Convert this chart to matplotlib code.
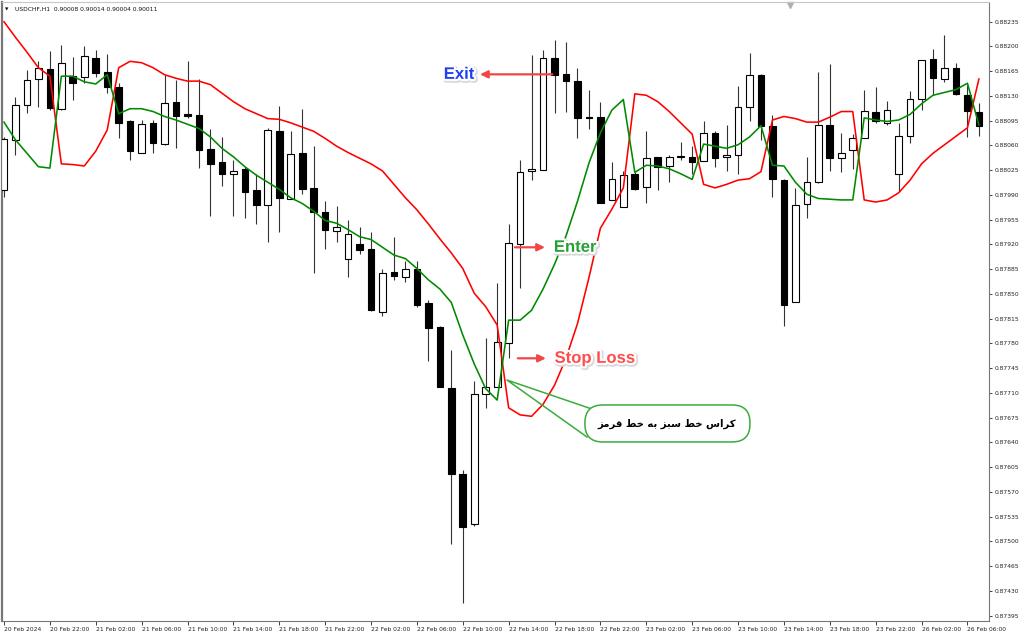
import matplotlib
matplotlib.use("Agg")
import matplotlib.pyplot as plt
import matplotlib.patheffects as pe
from matplotlib.patches import FancyBboxPatch
import numpy as np

# USDCHF H1 bars, index 0 = 20 Feb 18:00 ... index 85 = 26 Feb 07:00
opens = [0.87997, 0.88068, 0.88117, 0.88154, 0.88168, 0.88111, 0.88158, 0.88157, 0.88183, 0.88164,
         0.88142, 0.88095, 0.88050, 0.88092, 0.88062, 0.88121, 0.88104, 0.88103, 0.88055, 0.88036,
         0.88019, 0.88027, 0.87997, 0.87976, 0.88081, 0.87985, 0.88049, 0.88000, 0.87966, 0.87939,
         0.87900, 0.87920, 0.87913, 0.87825, 0.87881, 0.87874, 0.87885, 0.87837, 0.87803, 0.87717,
         0.87595, 0.87525, 0.87708, 0.87718, 0.87781, 0.87920, 0.88024, 0.88025, 0.88183, 0.88161,
         0.88151, 0.88100, 0.88100, 0.87983, 0.87973, 0.88020, 0.88001, 0.88043, 0.88031, 0.88044,
         0.88044, 0.88038, 0.88077, 0.88043, 0.88047, 0.88114, 0.88159, 0.88087, 0.88011, 0.87838,
         0.87977, 0.88008, 0.88089, 0.88042, 0.88053, 0.88071, 0.88108, 0.88092, 0.88020, 0.88073,
         0.88126, 0.88182, 0.88154, 0.88169, 0.88131, 0.88108]
highs = [0.88072, 0.88128, 0.88167, 0.88179, 0.88193, 0.88202, 0.88185, 0.88201, 0.88195, 0.88190,
         0.88148, 0.88096, 0.88096, 0.88096, 0.88160, 0.88153, 0.88179, 0.88154, 0.88084, 0.88072,
         0.88039, 0.88030, 0.88019, 0.88085, 0.88116, 0.88080, 0.88112, 0.88059, 0.87982, 0.87974,
         0.87955, 0.87944, 0.87938, 0.87886, 0.87931, 0.87897, 0.87897, 0.87842, 0.87805, 0.87771,
         0.87601, 0.87727, 0.87788, 0.87866, 0.87949, 0.88040, 0.88188, 0.88195, 0.88209, 0.88206,
         0.88169, 0.88139, 0.88122, 0.88036, 0.88024, 0.88022, 0.88080, 0.88044, 0.88046, 0.88065,
         0.88059, 0.88095, 0.88081, 0.88089, 0.88144, 0.88191, 0.88161, 0.88103, 0.88013, 0.88000,
         0.88043, 0.88164, 0.88175, 0.88077, 0.88076, 0.88138, 0.88142, 0.88123, 0.88092, 0.88137,
         0.88181, 0.88196, 0.88216, 0.88176, 0.88146, 0.88120]
lows = [0.87987, 0.88047, 0.88106, 0.88115, 0.88110, 0.88110, 0.88124, 0.88148, 0.88157, 0.88134,
        0.88070, 0.88040, 0.88049, 0.88049, 0.88061, 0.88056, 0.88099, 0.88028, 0.87960, 0.88002,
        0.87960, 0.87957, 0.87949, 0.87924, 0.87938, 0.87984, 0.87992, 0.87879, 0.87913, 0.87924,
        0.87874, 0.87906, 0.87826, 0.87819, 0.87870, 0.87867, 0.87831, 0.87755, 0.87718, 0.87497,
        0.87413, 0.87522, 0.87689, 0.87718, 0.87759, 0.87859, 0.88011, 0.88025, 0.88106, 0.88108,
        0.88070, 0.88084, 0.87979, 0.87983, 0.87973, 0.87997, 0.87978, 0.87997, 0.88008, 0.88040,
        0.88020, 0.88038, 0.88030, 0.88024, 0.88019, 0.88095, 0.88068, 0.87987, 0.87805, 0.87838,
        0.87957, 0.88007, 0.88024, 0.88022, 0.88027, 0.88071, 0.88092, 0.88089, 0.87995, 0.88063,
        0.88110, 0.88131, 0.88150, 0.88131, 0.88072, 0.88073]
closes = [0.88069, 0.88117, 0.88153, 0.88169, 0.88113, 0.88176, 0.88148, 0.88186, 0.88163, 0.88142,
          0.88092, 0.88052, 0.88091, 0.88064, 0.88120, 0.88102, 0.88101, 0.88053, 0.88034, 0.88020,
          0.88024, 0.87994, 0.87976, 0.88082, 0.87986, 0.88048, 0.87998, 0.87966, 0.87941, 0.87945,
          0.87935, 0.87912, 0.87827, 0.87880, 0.87875, 0.87885, 0.87834, 0.87802, 0.87718, 0.87596,
          0.87521, 0.87708, 0.87718, 0.87782, 0.87922, 0.88022, 0.88027, 0.88184, 0.88160, 0.88151,
          0.88099, 0.88099, 0.87979, 0.88013, 0.88018, 0.87999, 0.88042, 0.88030, 0.88043, 0.88045,
          0.88036, 0.88077, 0.88042, 0.88046, 0.88114, 0.88160, 0.88087, 0.88012, 0.87835, 0.87976,
          0.88009, 0.88089, 0.88042, 0.88050, 0.88070, 0.88109, 0.88095, 0.88110, 0.88074, 0.88126,
          0.88181, 0.88155, 0.88169, 0.88133, 0.88109, 0.88087]

# indicator lines
green_line = [0.88093, 0.88068, 0.88049, 0.88030, 0.88028, 0.88158, 0.88158, 0.88150, 0.88147, 0.88160,
              0.88105, 0.88112, 0.88112, 0.88108, 0.88101, 0.88096, 0.88090, 0.88084, 0.88072, 0.88056,
              0.88044, 0.88030, 0.88018, 0.88008, 0.87998, 0.87986, 0.87978, 0.87967, 0.87954, 0.87950,
              0.87941, 0.87931, 0.87927, 0.87916, 0.87905, 0.87900, 0.87886, 0.87870, 0.87857, 0.87838,
              0.87792, 0.87751, 0.87716, 0.87700, 0.87813, 0.87813, 0.87827, 0.87857, 0.87892, 0.87932,
              0.87981, 0.88035, 0.88078, 0.88110, 0.88125, 0.88022, 0.88032, 0.88031, 0.88027, 0.88020,
              0.88012, 0.88062, 0.88059, 0.88056, 0.88061, 0.88072, 0.88088, 0.88032, 0.88031, 0.88008,
              0.87991, 0.87985, 0.87984, 0.87983, 0.87983, 0.88099, 0.88096, 0.88094, 0.88096, 0.88104,
              0.88119, 0.88131, 0.88135, 0.88139, 0.88148, 0.88089]
red_line = [0.88235, 0.88213, 0.88192, 0.88170, 0.88158, 0.88034, 0.88033, 0.88031, 0.88052, 0.88082,
            0.88170, 0.88179, 0.88177, 0.88170, 0.88160, 0.88155, 0.88151, 0.88151, 0.88146, 0.88134,
            0.88122, 0.88112, 0.88105, 0.88098, 0.88097, 0.88092, 0.88086, 0.88080, 0.88070, 0.88059,
            0.88050, 0.88042, 0.88034, 0.88024, 0.88005, 0.87986, 0.87969, 0.87949, 0.87928, 0.87908,
            0.87886, 0.87851, 0.87832, 0.87806, 0.87689, 0.87679, 0.87677, 0.87694, 0.87721, 0.87759,
            0.87808, 0.87873, 0.87943, 0.87970, 0.88000, 0.88133, 0.88131, 0.88122, 0.88108, 0.88092,
            0.88076, 0.88005, 0.88000, 0.88005, 0.88011, 0.88013, 0.88023, 0.88096, 0.88101, 0.88098,
            0.88093, 0.88093, 0.88100, 0.88108, 0.88108, 0.87983, 0.87980, 0.87983, 0.87993, 0.88011,
            0.88034, 0.88049, 0.88061, 0.88073, 0.88085, 0.88154]

time_labels = ["20 Feb 2024", "20 Feb 22:00", "21 Feb 02:00", "21 Feb 06:00", "21 Feb 10:00",
               "21 Feb 14:00", "21 Feb 18:00", "21 Feb 22:00", "22 Feb 02:00", "22 Feb 06:00",
               "22 Feb 10:00", "22 Feb 14:00", "22 Feb 18:00", "22 Feb 22:00", "23 Feb 02:00",
               "23 Feb 06:00", "23 Feb 10:00", "23 Feb 14:00", "23 Feb 18:00", "23 Feb 22:00",
               "26 Feb 02:00", "26 Feb 06:00"]
label_bars = list(range(0, 86, 4))
price_ticks = [round(0.88235 - 0.00035 * k, 5) for k in range(25)]

cross_text = "کراس خط سبز به خط قرمز"

# matplotlib has no arabic shaping, so pick the joined forms by hand
FORMS = {  # isolated, final, initial, medial
    'ک': ('\uFB8E', '\uFB8F', '\uFEDB', '\uFEDC'),
    'ر': ('\uFEAD', '\uFEAE', None, None),
    'ا': ('\uFE8D', '\uFE8E', None, None),
    'ز': ('\uFEAF', '\uFEB0', None, None),
    'س': ('\uFEB1', '\uFEB2', '\uFEB3', '\uFEB4'),
    'خ': ('\uFEA5', '\uFEA6', '\uFEA7', '\uFEA8'),
    'ط': ('\uFEC1', '\uFEC2', '\uFEC3', '\uFEC4'),
    'ب': ('\uFE8F', '\uFE90', '\uFE91', '\uFE92'),
    'ه': ('\uFEE9', '\uFEEA', '\uFEEB', '\uFEEC'),
    'ق': ('\uFED5', '\uFED6', '\uFED7', '\uFED8'),
    'م': ('\uFEE1', '\uFEE2', '\uFEE3', '\uFEE4'),
}


def shape_rtl(s):
    out = []
    for i, ch in enumerate(s):
        if ch not in FORMS:
            out.append(ch)
            continue
        prev = s[i - 1] if i > 0 else ' '
        nxt = s[i + 1] if i + 1 < len(s) else ' '
        jp = prev in FORMS and FORMS[prev][2] is not None
        jn = nxt in FORMS and FORMS[ch][2] is not None
        iso, fin, ini, med = FORMS[ch]
        if jp and jn:
            out.append(med)
        elif jp:
            out.append(fin)
        elif jn:
            out.append(ini)
        else:
            out.append(iso)
    return ''.join(reversed(out))


fig = plt.figure(figsize=(10.24, 6.39), dpi=100)
ax = fig.add_axes([2 / 1024, 18 / 639, 987 / 1024, 619 / 639])

idx = np.arange(len(opens))
o = np.array(opens)
c = np.array(closes)
up = c >= o
lo = np.minimum(o, c)
hgt = np.maximum(np.abs(c - o), 0.000004)

ax.vlines(idx, lows, highs, color='#333333', lw=0.8, zorder=2)
ax.bar(idx[up], hgt[up], bottom=lo[up], width=0.58, color='white',
       edgecolor='black', lw=0.8, zorder=3)
ax.bar(idx[~up], hgt[~up], bottom=lo[~up], width=0.58, color='black',
       edgecolor='black', lw=0.8, zorder=3)

ax.plot(idx, red_line, color='#ff0000', lw=1.15, zorder=4)
ax.plot(idx, green_line, color='#008a00', lw=1.15, zorder=4)

ax.set_xlim(-0.174, 85.88)
ax.set_ylim(0.873875, 0.882629)

ax.yaxis.tick_right()
ax.set_yticks(price_ticks)
ax.set_yticklabels([f"{p:.5f}" for p in price_ticks])
ax.set_xticks(label_bars)
ax.set_xticklabels(time_labels)
for t in ax.get_xticklabels():
    t.set_ha('left')
ax.tick_params(axis='y', direction='out', length=2.5, width=0.6, pad=1.5,
               labelsize=4.3, colors='#222222')
ax.tick_params(axis='x', direction='out', length=3, width=0.6, pad=1.5,
               labelsize=4.3, colors='#222222')
for side in ['left', 'bottom', 'right']:
    ax.spines[side].set_color('#777777')
    ax.spines[side].set_linewidth(0.8)
ax.spines['left'].set_linewidth(1.6)
ax.spines['top'].set_color('#c8c8c8')
ax.spines['top'].set_linewidth(0.8)

# header
fig.text(5 / 1024, 1 - 9.5 / 639, '\u25bc', fontsize=3.2, va='center', color='black')
fig.text(15 / 1024, 1 - 9.5 / 639, 'USDCHF,H1  0.90008 0.90014 0.90004 0.90011',
         fontsize=4.3, va='center', color='#111111')
ax.plot([(790 - 2) / 987], [0.995], marker='v', ms=4, color='#b0b0b0',
        transform=ax.transAxes, clip_on=False)

# labels with arrows
glow = [pe.Stroke(linewidth=4, foreground='#dadada', offset=(0.8, -0.8)),
        pe.Stroke(linewidth=3, foreground='white'), pe.Normal()]
arrow_kw = dict(arrowstyle='-|>,head_length=0.45,head_width=0.22', color='#f04646',
                lw=1.6, shrinkA=0, shrinkB=0)
lbl_font = dict(family='Liberation Sans', fontweight='bold', fontsize=12,
                ha='center', va='center', path_effects=glow, zorder=8)

ax.annotate('', xy=(41.5, 0.881606), xytext=(47.8, 0.881606), arrowprops=arrow_kw, zorder=7)
ax.text(39.67, 0.881606, 'Exit', color='#1f3ff0', **lbl_font)

ax.annotate('', xy=(47.17, 0.87916), xytext=(44.55, 0.87916), arrowprops=arrow_kw, zorder=7)
ax.text(49.8, 0.87916, 'Enter', color='#25a035', **lbl_font)

ax.annotate('', xy=(47.25, 0.87759), xytext=(44.8, 0.87759), arrowprops=arrow_kw, zorder=7)
ax.text(51.5, 0.87759, 'Stop Loss', color='#ff4d4d', **lbl_font)

# callout for the cross
ax.plot([51.26, 43.85, 50.83], [0.876873, 0.877283, 0.876477], color='#3cab3c',
        lw=1.1, zorder=5)
box = FancyBboxPatch((50.65, 0.876407), 14.39, 0.000523,
                     boxstyle='round,pad=0,rounding_size=1.55', mutation_aspect=1.622e-4,
                     fc='white', ec='#3cab3c', lw=1.1, zorder=6)
ax.add_patch(box)
ax.text(57.8, 0.876661, shape_rtl(cross_text), ha='center', va='center', fontsize=7.3,
        fontweight='bold', family='DejaVu Sans', color='black', zorder=7)

fig.savefig('out.png', dpi=100, facecolor='white')
